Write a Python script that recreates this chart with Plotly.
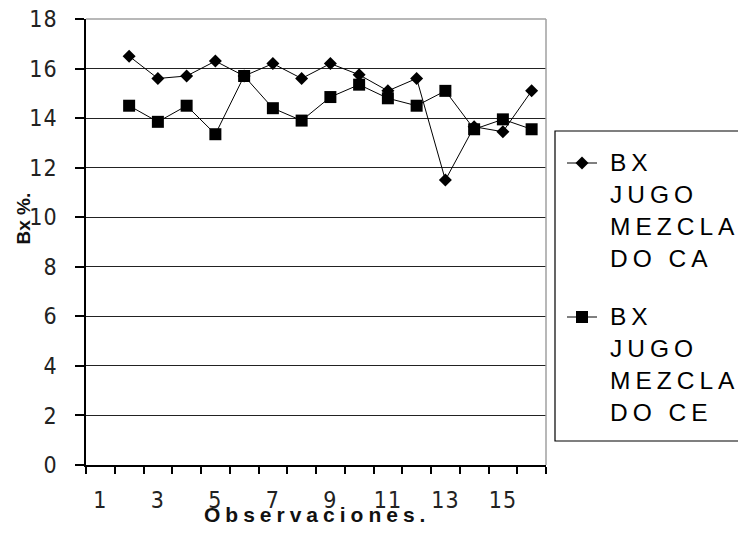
import plotly.graph_objects as go

# Observation numbers (category 1 has no reading)
observaciones = list(range(1, 17))

# Brix % of mixed juice, two sampling points
bx_ca = [None, 16.5, 15.6, 15.7, 16.3, 15.7, 16.2, 15.6, 16.2, 15.75, 15.1, 15.6, 11.5, 13.65, 13.45, 15.1]
bx_ce = [None, 14.5, 13.85, 14.5, 13.35, 15.7, 14.4, 13.9, 14.85, 15.35, 14.8, 14.5, 15.1, 13.55, 13.95, 13.55]

nombre_ca = "BX<br>JUGO<br>MEZCLA<br>DO CA"
nombre_ce = "BX<br>JUGO<br>MEZCLA<br>DO CE"

x_labels = [1, 3, 5, 7, 9, 11, 13, 15]
y_ticks = [0, 2, 4, 6, 8, 10, 12, 14, 16, 18]

FONT = "Liberation Sans, Arial, sans-serif"
TICK_FONT = "Liberation Sans Narrow, DejaVu Sans Condensed, Liberation Sans, sans-serif"

W, H = 738, 537
M_L, M_T, M_B = 86, 19, 72
PAPER_W = W - M_L          # no right margin; the plot uses part of the paper width
PAPER_H = H - M_T - M_B
PLOT_W = 460               # width of the plotting area in px


def spaced(text, px):
    return "<br>".join(f'<span style="letter-spacing:{px}px">{line}</span>' for line in text.split("<br>"))


def px_x(px):
    return (px - M_L) / PAPER_W


def px_y(px):
    return (H - M_B - px) / PAPER_H


fig = go.Figure()

series = [
    (bx_ca, nombre_ca, "diamond", 10),
    (bx_ce, nombre_ce, "square", 12),
]
for values, name, symbol, size in series:
    fig.add_trace(go.Scatter(
        x=observaciones, y=values, mode="lines+markers", name=name.replace("<br>", " "),
        line=dict(color="black", width=1),
        marker=dict(symbol=symbol, size=size, color="black"),
        showlegend=False,
    ))

# Legend panel: its own pixel-scaled axes so the keys use the same markers as the series
LEG_LEFT, LEG_TOP, LEG_BOTTOM = 555, 131, 441
key_rows = [32, 186]           # vertical centre of each key, px below the panel top
text_centres = [79.5, 233.5]   # vertical centre of each 4-line label
annotations = []
for (values, name, symbol, size), ky, ty in zip(series, key_rows, text_centres):
    fig.add_trace(go.Scatter(
        x=[12, 27, 42], y=[ky, ky, ky], xaxis="x2", yaxis="y2",
        mode="lines", line=dict(color="black", width=1),
        showlegend=False, hoverinfo="skip",
    ))
    fig.add_trace(go.Scatter(
        x=[27], y=[ky], xaxis="x2", yaxis="y2", mode="markers",
        marker=dict(symbol=symbol, size=size, color="black"),
        showlegend=False, hoverinfo="skip",
    ))
    annotations.append(dict(
        text=spaced(name, 5), xref="x2", yref="y2", x=53, y=ty,
        xanchor="left", yanchor="middle", align="left", showarrow=False,
        font=dict(family=FONT, size=24.5, color="black"),
    ))

annotations += [
    dict(text="<b>Bx %.</b>", xref="paper", yref="paper", x=px_x(23), y=px_y(218.5),
         textangle=-90, showarrow=False, font=dict(family=FONT, size=19, color="#111"),
         xanchor="center", yanchor="middle"),
    dict(text='<b><span style="letter-spacing:5px">Observaciones.</span></b>',
         xref="x domain", yref="paper", x=0.503, y=px_y(514), showarrow=False,
         font=dict(family=FONT, size=21, color="#111"), xanchor="center", yanchor="middle"),
]

fig.update_layout(
    width=W, height=H,
    margin=dict(l=M_L, r=0, t=M_T, b=M_B, autoexpand=False),
    paper_bgcolor="white", plot_bgcolor="white",
    font=dict(family=FONT, color="#111"),
    showlegend=False,
    xaxis=dict(
        domain=[0, PLOT_W / PAPER_W],
        range=[0.5, 16.5], tickmode="array", tickvals=x_labels,
        ticktext=[spaced(str(v), 1) for v in x_labels], ticks="",
        tickfont=dict(family=TICK_FONT, size=23, color="#222"),
        ticklabelstandoff=14,
        showgrid=False, zeroline=False,
        showline=True, linecolor="black", linewidth=1.5,
        minor=dict(tickmode="array", tickvals=[v + 0.5 for v in range(0, 17)],
                   ticks="outside", ticklen=7, tickwidth=1.5, tickcolor="black",
                   showgrid=False),
    ),
    yaxis=dict(
        range=[0, 18], tickmode="array", tickvals=y_ticks,
        ticktext=[spaced(str(v), 1) for v in y_ticks],
        ticks="outside", ticklen=9, tickwidth=1.5, tickcolor="black",
        tickfont=dict(family=TICK_FONT, size=23, color="#222"),
        ticklabelstandoff=13,
        showgrid=True, gridcolor="#222", gridwidth=1.3,
        zeroline=False,
        showline=True, linecolor="black", linewidth=1.5,
    ),
    xaxis2=dict(
        domain=[px_x(LEG_LEFT), 1], range=[0, W - LEG_LEFT], anchor="y2",
        visible=False, fixedrange=True,
    ),
    yaxis2=dict(
        domain=[px_y(LEG_BOTTOM), px_y(LEG_TOP)], range=[LEG_BOTTOM - LEG_TOP, 0], anchor="x2",
        visible=False, fixedrange=True,
    ),
    shapes=[
        # plot-area frame (top and right edges)
        dict(type="line", xref="x domain", yref="y domain", x0=0, x1=1, y0=1, y1=1,
             line=dict(color="#a0a0a0", width=1.5)),
        dict(type="line", xref="x domain", yref="y domain", x0=1, x1=1, y0=0, y1=1,
             line=dict(color="#a0a0a0", width=1.5)),
        # legend frame (runs past the right edge of the figure)
        dict(type="rect", xref="paper", yref="paper",
             x0=px_x(LEG_LEFT), x1=px_x(W + 10), y0=px_y(LEG_BOTTOM), y1=px_y(LEG_TOP),
             line=dict(color="black", width=1.2), fillcolor="rgba(0,0,0,0)", layer="below"),
    ],
    annotations=annotations,
)

fig.write_html("out.html")
